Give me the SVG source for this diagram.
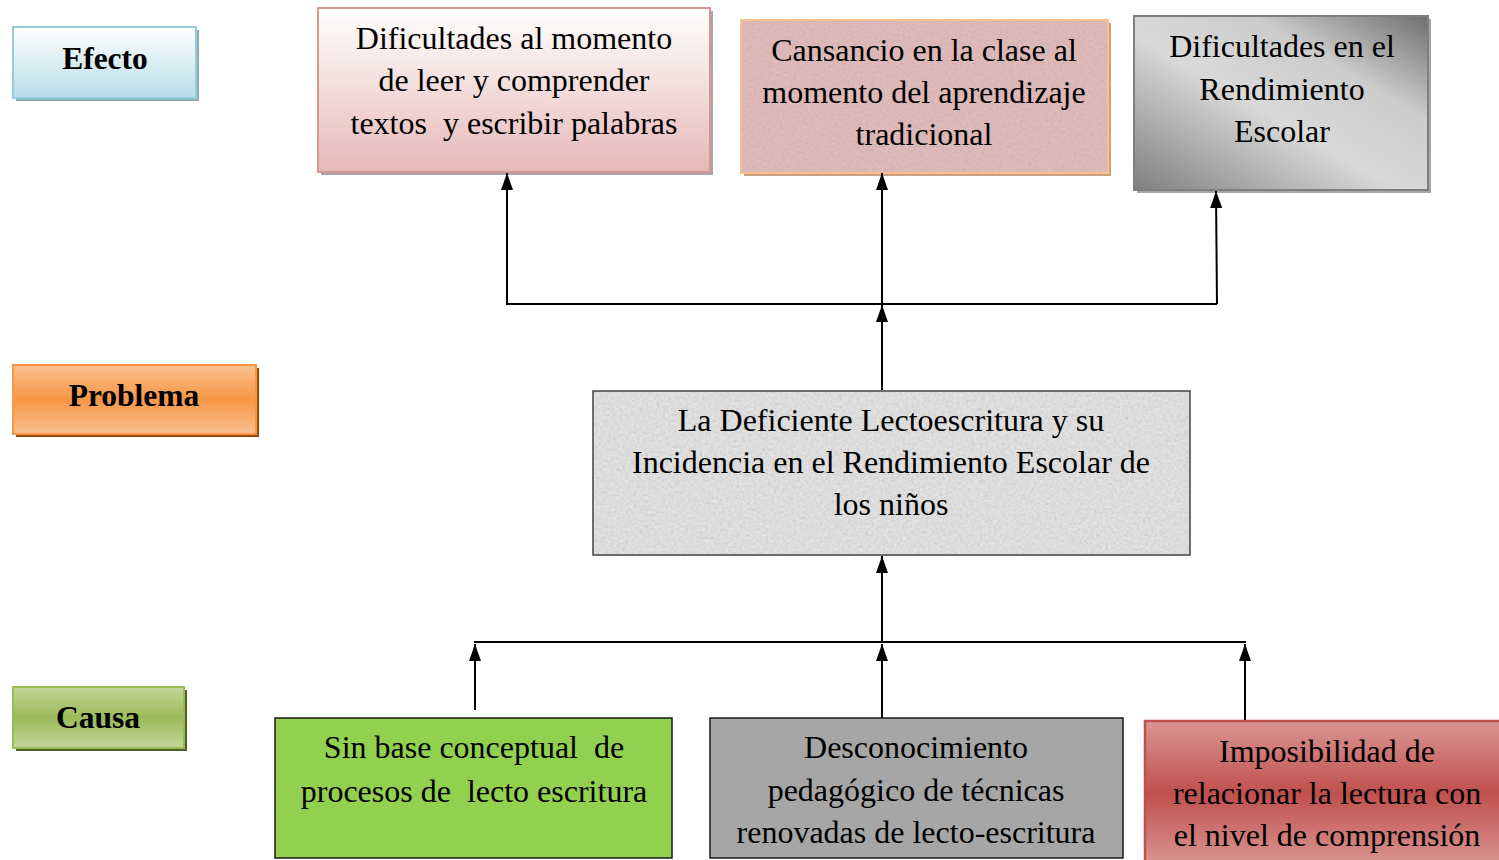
<svg xmlns="http://www.w3.org/2000/svg" width="1499" height="860" viewBox="0 0 1499 860">
<style>
.t{font-family:"Liberation Serif","Times New Roman",serif;font-size:32px;fill:#000;text-anchor:middle;white-space:pre}
.b{font-weight:bold;font-size:31.5px}
.ln{stroke:#000;stroke-width:2;fill:none}
</style>
<defs>
<linearGradient id="gBlue" x1="0" y1="0" x2="0" y2="1"><stop offset="0" stop-color="#ffffff"/><stop offset="1" stop-color="#b7dde8"/></linearGradient>
<linearGradient id="gOrange" x1="0" y1="0" x2="0" y2="1"><stop offset="0" stop-color="#fac090"/><stop offset="0.5" stop-color="#f79646"/><stop offset="1" stop-color="#fac090"/></linearGradient>
<linearGradient id="gGreen" x1="0" y1="0" x2="0" y2="1"><stop offset="0" stop-color="#c3d69b"/><stop offset="0.5" stop-color="#9bbb59"/><stop offset="1" stop-color="#c3d69b"/></linearGradient>
<linearGradient id="gPink" x1="0" y1="0" x2="0" y2="1"><stop offset="0" stop-color="#ffffff"/><stop offset="1" stop-color="#e6b9b8"/></linearGradient>
<linearGradient id="gRed" x1="0" y1="0" x2="0" y2="1"><stop offset="0" stop-color="#d99694"/><stop offset="0.5" stop-color="#c0504d"/><stop offset="1" stop-color="#d99694"/></linearGradient>
<linearGradient id="gGray" x1="0" y1="1" x2="1" y2="0"><stop offset="0" stop-color="#7f7f7f"/><stop offset="0.45" stop-color="#d9d9d9"/><stop offset="0.7" stop-color="#cccccc"/><stop offset="1" stop-color="#6f6f6f"/></linearGradient>
<filter id="grain" x="0" y="0" width="1" height="1">
<feTurbulence type="fractalNoise" baseFrequency="0.35" numOctaves="3" seed="4" result="t"/>
<feColorMatrix in="t" type="matrix" values="0.33 0.33 0.33 0 0  0.33 0.33 0.33 0 0  0.33 0.33 0.33 0 0  0 0 0 0 1" result="g"/>
<feComposite in="g" in2="SourceGraphic" operator="in"/>
</filter>
<marker id="arr" viewBox="0 0 17 12" refX="17" refY="6" markerWidth="17" markerHeight="12" markerUnits="userSpaceOnUse" orient="auto">
<path d="M0,0 L17,6 L0,12 z" fill="#000"/>
</marker>
</defs>

<g id="label-efecto">
<rect x="16" y="30" width="183" height="71" fill="#8eabb4"/>
<rect x="13" y="27" width="183" height="71" fill="url(#gBlue)" stroke="#93cddd" stroke-width="2"/>
<text class="t b" x="105" y="69">Efecto</text>
</g>
<g id="label-problema">
<rect x="16" y="368" width="243" height="69" fill="#984807"/>
<rect x="13" y="365" width="243" height="69" fill="url(#gOrange)" stroke="#f79646" stroke-width="2"/>
<text class="t b" x="134" y="406">Problema</text>
</g>
<g id="label-causa">
<rect x="16" y="690" width="171" height="61" fill="#4f6228"/>
<rect x="13" y="687" width="171" height="61" fill="url(#gGreen)" stroke="#9bbb59" stroke-width="2"/>
<text class="t b" x="98" y="728">Causa</text>
</g>

<g id="efecto-1">
<rect x="321" y="11" width="392" height="164" fill="#a6a6a6"/>
<rect x="318" y="8" width="392" height="164" fill="url(#gPink)" stroke="#d99694" stroke-width="2"/>
<text class="t" x="514" y="49">Dificultades al momento</text>
<text class="t" x="514" y="91">de leer y comprender</text>
<text class="t" x="514" y="134">textos  y escribir palabras</text>
</g>
<g id="efecto-2">
<rect x="744" y="23" width="367" height="153" fill="#c9a27e"/>
<rect x="741" y="20" width="367" height="153" fill="#e3b8b6" stroke="#fac090" stroke-width="2"/>
<rect x="742" y="21" width="365" height="151" fill="#fff" filter="url(#grain)" opacity="0.18"/>
<text class="t" x="924" y="61">Cansancio en la clase al</text>
<text class="t" x="924" y="103">momento del aprendizaje</text>
<text class="t" x="924" y="145">tradicional</text>
</g>
<g id="efecto-3">
<rect x="1137" y="19" width="294" height="174" fill="#a6a6a6"/>
<rect x="1134" y="16" width="294" height="174" fill="url(#gGray)" stroke="#7f7f7f" stroke-width="2"/>
<text class="t" x="1282" y="57">Dificultades en el</text>
<text class="t" x="1282" y="100">Rendimiento</text>
<text class="t" x="1282" y="142">Escolar</text>
</g>

<g id="problema">
<rect x="593" y="391" width="597" height="164" fill="#ebebeb"/>
<rect x="594" y="392" width="595" height="162" fill="#fff" filter="url(#grain)" opacity="0.3"/>
<rect x="593" y="391" width="597" height="164" fill="none" stroke="#404040" stroke-width="1.5"/>
<text class="t" x="891" y="431">La Deficiente Lectoescritura y su</text>
<text class="t" x="891" y="473">Incidencia en el Rendimiento Escolar de</text>
<text class="t" x="891" y="515">los niños</text>
</g>

<g id="causa-1">
<rect x="275" y="718" width="397" height="140" fill="#92d050" stroke="#1a1a1a" stroke-width="1.5"/>
<text class="t" x="474" y="758">Sin base conceptual  de</text>
<text class="t" x="474" y="802">procesos de  lecto escritura</text>
</g>
<g id="causa-2">
<rect x="710" y="718" width="413" height="140" fill="#a6a6a6" stroke="#1a1a1a" stroke-width="1.5"/>
<text class="t" x="916" y="758">Desconocimiento</text>
<text class="t" x="916" y="801">pedagógico de técnicas</text>
<text class="t" x="916" y="843">renovadas de lecto-escritura</text>
</g>
<g id="causa-3">
<rect x="1145" y="721" width="360" height="145" fill="url(#gRed)" stroke="#c0504d" stroke-width="2.5"/>
<text class="t" x="1327" y="762">Imposibilidad de</text>
<text class="t" x="1327" y="804">relacionar la lectura con</text>
<text class="t" x="1327" y="846">el nivel de comprensión</text>
</g>

<g id="connectors">
<path class="ln" d="M506,304 H1217"/>
<path class="ln" d="M507,304 V173" marker-end="url(#arr)"/>
<path class="ln" d="M882,304 V173" marker-end="url(#arr)"/>
<path class="ln" d="M1217,304 L1216,191" marker-end="url(#arr)"/>
<path class="ln" d="M882,390 V305" marker-end="url(#arr)"/>
<path class="ln" d="M474,642 H1246"/>
<path class="ln" d="M882,642 V556" marker-end="url(#arr)"/>
<path class="ln" d="M475,710 V644" marker-end="url(#arr)"/>
<path class="ln" d="M882,718 V644" marker-end="url(#arr)"/>
<path class="ln" d="M1245,720 V644" marker-end="url(#arr)"/>
</g>
</svg>
